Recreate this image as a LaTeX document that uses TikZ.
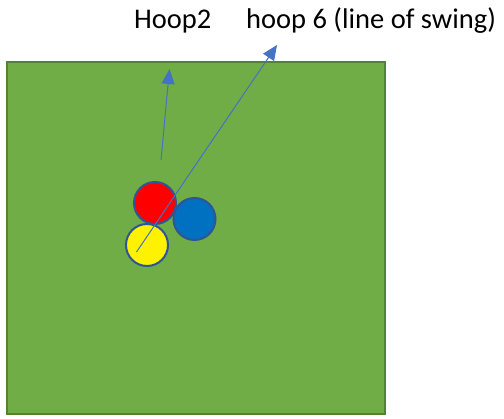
\documentclass[tikz,border=0pt]{standalone}
\usepackage{fontspec}
\setmainfont{Carlito}
\usetikzlibrary{arrows.meta}
\definecolor{lawn}{HTML}{70AD47}
\definecolor{lawnedge}{HTML}{548235}
\definecolor{balledge}{HTML}{2F5597}
\definecolor{swing}{HTML}{4472C4}
\definecolor{ballblue}{HTML}{0070C0}

\begin{document}
\begin{tikzpicture}[x=1pt, y=-1pt,
    ball/.style={circle, draw=balledge, line width=2pt, minimum size=42pt, inner sep=0pt},
    aim/.style={draw=swing, line width=1pt, -{Triangle[length=15pt,width=13pt]}},
    lab/.style={anchor=base west, inner sep=0pt, font=\fontsize{28.5}{30}\selectfont}]

  \useasboundingbox (0,0) rectangle (504,419);
  \draw[fill=lawn, draw=lawnedge, line width=2pt] (7,62) rectangle (385,414);

  \node[lab] (H2) at (134,28.5) {Hoop2};
  \node[lab] (H6) at (246,28.5) {hoop 6 (line of swing)};

  \node[ball, fill=red] (R) at (155,203) {};
  \node[ball, fill=ballblue] (B) at (194.5,219) {};
  \node[ball, fill=yellow] (Y) at (147,245) {};

  \coordinate (s1) at (161,160);
  \coordinate (t1) at (169.5,69);
  \coordinate (s2) at (136.5,252);
  \coordinate (t2) at (277,45);
  \draw[aim] (s1) -- (t1);
  \draw[aim] (s2) -- (t2);
\end{tikzpicture}
\end{document}
